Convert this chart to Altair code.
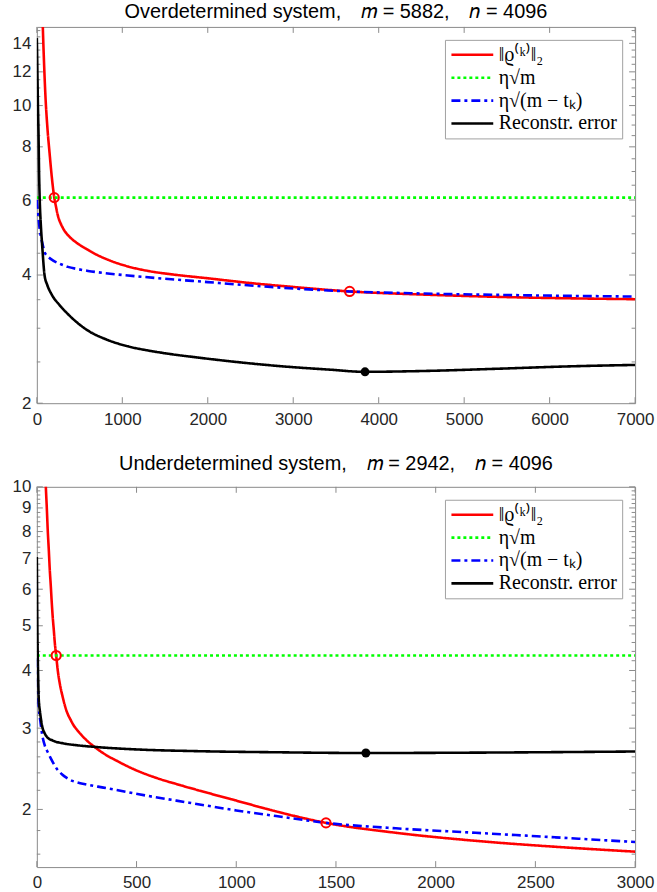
import altair as alt
import pandas as pd

NAMES = ["‖ϱ⁽ᵏ⁾‖₂", "η√m", "η√(m − tₖ)", "Reconstr. error"]
COLORS = ["#ff0000", "#00ff00", "#0000ff", "#000000"]
DASHES = [[1, 0], [3, 3], [9, 4, 3, 4], [1, 0]]

# ---------------- Overdetermined system (top) ----------------
top_title = "Overdetermined system,\u2003𝑚 = 5882,\u2003𝑛 = 4096"
top_resid_k = [55, 70, 85, 100, 125, 150, 175, 204, 225, 242, 260, 280, 300, 324, 350, 400, 500, 600, 714,
               850, 1066, 1300, 1600, 2000, 2500, 3000, 3660, 4500, 5500, 7000]
top_resid_v = [20, 15.3, 12.5, 10.6, 8.8, 7.7, 6.8, 6.08, 5.78, 5.56, 5.4, 5.28, 5.18, 5.08, 5.0, 4.88, 4.71,
               4.58, 4.45, 4.33, 4.19, 4.09, 4.01, 3.93, 3.83, 3.75, 3.66, 3.6, 3.55, 3.51]
top_eta_k = [0, 7000]
top_eta_v = [6.08, 6.08]
top_etat_k = [0, 5, 10, 18, 25, 35, 50, 70, 90, 130, 187, 270, 363, 480, 600, 800, 1066, 1500, 2000, 2500,
              3000, 3660, 4500, 5500, 7000]
top_etat_v = [6.0, 5.85, 5.7, 5.5, 5.3, 5.1, 4.9, 4.7, 4.53, 4.42, 4.33, 4.25, 4.18, 4.13, 4.09, 4.04, 3.99,
              3.92, 3.85, 3.78, 3.72, 3.66, 3.62, 3.59, 3.56]
top_err_k = [0, 4, 8, 13, 20, 26, 34, 48, 64, 90, 120, 167, 266, 363, 450, 600, 800, 1066, 1300, 1500, 1885,
             2500, 3000, 3400, 3840, 4500, 5400, 6200, 7000]
top_err_v = [14.4, 13, 11.5, 10, 8.5, 7.0, 6.0, 5.2, 4.65, 4.0, 3.8, 3.62, 3.4, 3.24, 3.12, 2.96, 2.83, 2.72,
             2.66, 2.62, 2.56, 2.48, 2.43, 2.4, 2.37, 2.38, 2.41, 2.44, 2.46]
top_circle_k = [204, 3660]
top_circle_v = [6.08, 3.66]
top_dot_k = [3840]
top_dot_v = [2.37]
top_ymajor = [2, 4, 6, 8, 10, 12, 14]
top_yminor = [2.5, 3, 3.5, 4.5, 5, 5.5, 6.5, 7, 7.5, 8.5, 9, 9.5, 10.5, 11, 11.5, 12.5, 13, 13.5, 14.5, 15]
top_xticks = [0, 1000, 2000, 3000, 4000, 5000, 6000, 7000]

# ---------------- Underdetermined system (bottom) ----------------
bot_title = "Underdetermined system,\u2003𝑚 = 2942,\u2003𝑛 = 4096"
bot_resid_k = [38, 42, 46, 50, 55, 60, 65, 70, 75, 80, 85, 90, 97, 105, 115, 130, 150, 169, 185, 200, 240,
               300, 350, 400, 481, 600, 700, 827, 1000, 1200, 1450, 1800, 2200, 2600, 3000]
bot_resid_v = [12, 10.8, 9.8, 9.0, 8.0, 7.3, 6.6, 6.1, 5.6, 5.2, 4.9, 4.6, 4.31, 4.0, 3.75, 3.5, 3.26, 3.13,
               3.04, 2.98, 2.85, 2.71, 2.62, 2.55, 2.45, 2.34, 2.27, 2.19, 2.09, 1.98, 1.87, 1.78, 1.71, 1.66,
               1.62]
bot_eta_k = [0, 3000]
bot_eta_v = [4.31, 4.31]
bot_etat_k = [0, 2, 5, 10, 18, 26, 40, 55, 70, 100, 127, 150, 169, 200, 250, 334, 481, 582, 700, 831, 1000,
              1200, 1450, 1800, 2200, 2600, 3000]
bot_etat_v = [4.25, 4.0, 3.7, 3.33, 3.1, 2.92, 2.75, 2.66, 2.58, 2.45, 2.38, 2.34, 2.315, 2.29, 2.265, 2.23,
              2.17, 2.13, 2.09, 2.045, 1.99, 1.935, 1.87, 1.82, 1.78, 1.74, 1.70]
bot_err_k = [0, 1, 2, 3, 5, 7, 10, 14, 18, 26, 40, 51, 80, 134, 200, 300, 481, 800, 1200, 1650, 2200, 3000]
bot_err_v = [7.05, 6.2, 5.4, 4.8, 4.2, 3.8, 3.44, 3.3, 3.2, 3.04, 2.92, 2.87, 2.82, 2.78, 2.755, 2.73, 2.70,
             2.675, 2.66, 2.65, 2.655, 2.67]
bot_circle_k = [97, 1450]
bot_circle_v = [4.31, 1.87]
bot_dot_k = [1650]
bot_dot_v = [2.65]
bot_ymajor = [2, 3, 4, 5, 6, 7, 8, 9, 10]
bot_yminor = [1.6, 1.8, 2.2, 2.4, 2.6, 2.8, 3.2, 3.4, 3.6, 3.8, 4.2, 4.4, 4.6, 4.8,
              5.2, 5.4, 5.6, 5.8, 6.2, 6.4, 6.6, 6.8, 7.2, 7.4, 7.6, 7.8,
              8.2, 8.4, 8.6, 8.8, 9.2, 9.4, 9.6, 9.8]
bot_xticks = [0, 500, 1000, 1500, 2000, 2500, 3000]

AXIS_GRAY = "#8a8a8a"
LABEL = "#262626"


def series_df(parts):
    rows = []
    for name, ks, vs in parts:
        for k, v in zip(ks, vs):
            rows.append({"k": k, "v": v, "series": name})
    return pd.DataFrame(rows)


def panel(lines_df, ck, cv, dk, dv, xticks, ydom, ymajor, yminor, W, H, title, yext):
    xmax = xticks[-1]
    xs = alt.Scale(domain=[0, xmax], nice=False, zero=False)
    ys = alt.Scale(type="log", domain=ydom, nice=False)
    leg = alt.Legend(title=None, orient="top-right", offset=13, fillColor="white",
                     strokeColor="#a0a0a0", padding=5, symbolType="stroke",
                     symbolStrokeWidth=2.6, symbolSize=1764, labelFont="Liberation Serif",
                     labelFontSize=20, labelColor="#000000", labelLimit=260, rowPadding=3,
                     labelOffset=4, clipHeight=20)
    lines = alt.Chart(lines_df).mark_line(clip=True, strokeWidth=2.6, interpolate="monotone").encode(
        x=alt.X("k:Q", scale=xs, title=None,
                axis=alt.Axis(values=xticks, grid=False, ticks=False, domain=False,
                              labelFont="Liberation Sans", labelFontSize=17, labelColor=LABEL,
                              labelPadding=8, format="d", labelFlush=False)),
        y=alt.Y("v:Q", scale=ys, title=None,
                axis=alt.Axis(values=ymajor, grid=False, ticks=False, domain=False,
                              labelFont="Liberation Sans", labelFontSize=17, labelColor=LABEL,
                              labelPadding=6, format="~g", minExtent=yext, maxExtent=yext,
                              labelFlush=False)),
        color=alt.Color("series:N", scale=alt.Scale(domain=NAMES, range=COLORS), legend=leg),
        strokeDash=alt.StrokeDash("series:N", scale=alt.Scale(domain=NAMES, range=DASHES), legend=leg),
    )
    circ = alt.Chart(pd.DataFrame({"k": ck, "v": cv})).mark_point(
        shape="circle", filled=False, color="#ff0000", size=85, strokeWidth=2, opacity=1).encode(
        x=alt.X("k:Q", scale=xs), y=alt.Y("v:Q", scale=ys))
    dot = alt.Chart(pd.DataFrame({"k": dk, "v": dv})).mark_point(
        shape="circle", filled=True, color="#000000", size=80, opacity=1).encode(
        x=alt.X("k:Q", scale=xs), y=alt.Y("v:Q", scale=ys))

    ymaj_df = pd.DataFrame({"v": ymajor})
    ymin_df = pd.DataFrame({"v": yminor})
    x_df = pd.DataFrame({"k": xticks})
    rule = dict(color=AXIS_GRAY, strokeWidth=1)
    ticks = [
        alt.Chart(ymaj_df).mark_rule(**rule).encode(y=alt.Y("v:Q", scale=ys), x=alt.value(0), x2=alt.value(6)),
        alt.Chart(ymin_df).mark_rule(**rule).encode(y=alt.Y("v:Q", scale=ys), x=alt.value(0), x2=alt.value(3.5)),
        alt.Chart(ymaj_df).mark_rule(**rule).encode(y=alt.Y("v:Q", scale=ys), x=alt.value(W - 6), x2=alt.value(W)),
        alt.Chart(ymin_df).mark_rule(**rule).encode(y=alt.Y("v:Q", scale=ys), x=alt.value(W - 3.5), x2=alt.value(W)),
        alt.Chart(x_df).mark_rule(**rule).encode(x=alt.X("k:Q", scale=xs), y=alt.value(H), y2=alt.value(H - 6)),
        alt.Chart(x_df).mark_rule(**rule).encode(x=alt.X("k:Q", scale=xs), y=alt.value(0), y2=alt.value(6)),
    ]
    return alt.layer(*ticks, lines, circ, dot).properties(
        width=W, height=H,
        title=alt.TitleParams(title, font="Liberation Sans", fontSize=20, fontWeight="normal",
                              color="#000000", offset=4, anchor="middle"))


top_df = series_df([(NAMES[0], top_resid_k, top_resid_v), (NAMES[1], top_eta_k, top_eta_v),
                    (NAMES[2], top_etat_k, top_etat_v), (NAMES[3], top_err_k, top_err_v)])
bot_df = series_df([(NAMES[0], bot_resid_k, bot_resid_v), (NAMES[1], bot_eta_k, bot_eta_v),
                    (NAMES[2], bot_etat_k, bot_etat_v), (NAMES[3], bot_err_k, bot_err_v)])

top = panel(top_df, top_circle_k, top_circle_v, top_dot_k, top_dot_v, top_xticks,
            [2, 15.3], top_ymajor, top_yminor, 601, 378, top_title, 31)
bot = panel(bot_df, bot_circle_k, bot_circle_v, bot_dot_k, bot_dot_v, bot_xticks,
            [1.5, 10], bot_ymajor, bot_yminor, 601, 382, bot_title, 31)

chart = alt.vconcat(top, bot, spacing=25).resolve_scale(
    color="independent", strokeDash="independent", x="independent", y="independent"
).resolve_legend(color="independent", strokeDash="independent").properties(
    padding={"left": 5, "top": 0, "right": 2, "bottom": 2}
).configure_view(stroke=AXIS_GRAY, strokeWidth=1)

chart.save("out.html", embed_options={"renderer": "svg", "actions": False})
